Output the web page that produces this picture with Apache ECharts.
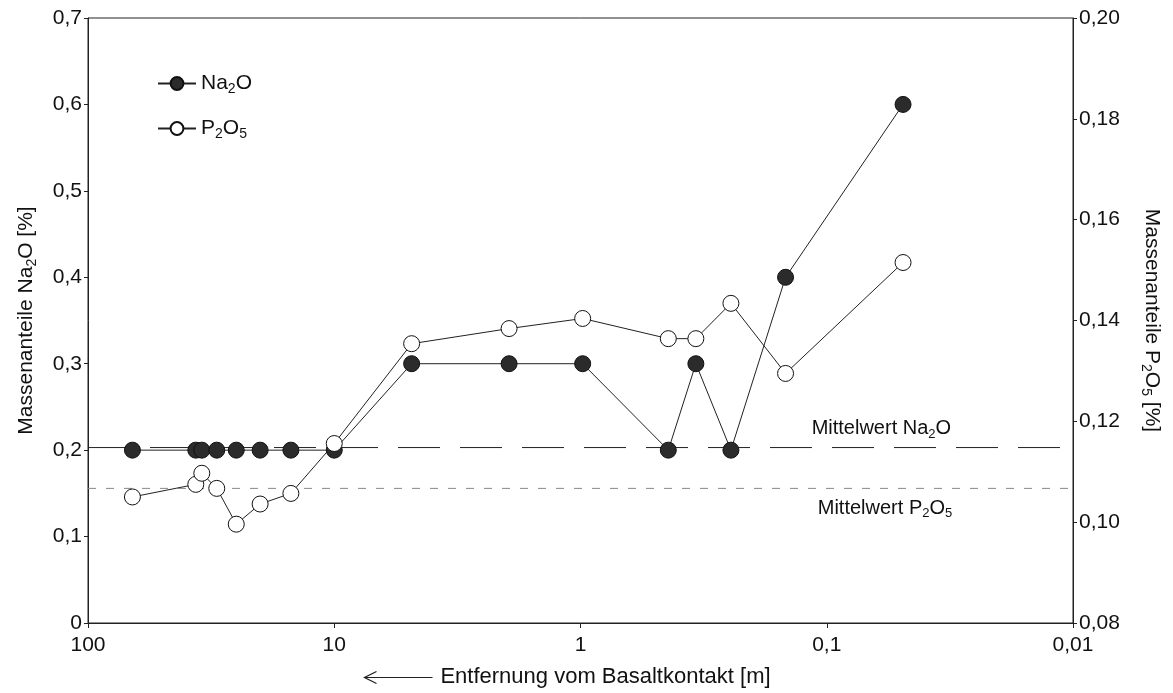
<!DOCTYPE html>
<html>
<head>
<meta charset="utf-8">
<script src="https://cdn.jsdelivr.net/npm/echarts@6/dist/echarts.min.js"></script>
<style>
html,body{margin:0;padding:0;background:#fff;}
#chart{width:1173px;height:693px;}
</style>
</head>
<body>
<div id="chart"></div>
<script>
// distance from basalt contact [m]
const distance = [66, 36.5, 34.5, 30, 25, 20, 15, 10, 4.85, 1.95, 0.98, 0.44, 0.34, 0.245, 0.147, 0.049];
// Na2O mass fraction [%]
const na2o = [0.2, 0.2, 0.2, 0.2, 0.2, 0.2, 0.2, 0.2, 0.3, 0.3, 0.3, 0.2, 0.3, 0.2, 0.4, 0.6];
// P2O5 mass fraction [%]
const p2o5 = [0.105, 0.1075, 0.1097, 0.1067, 0.0996, 0.1036, 0.1057, 0.1156, 0.1354, 0.1384, 0.1404, 0.1364, 0.1364, 0.1434, 0.1295, 0.1515];
// mean values
const meanNa2o = 0.203;
const meanP2o5 = 0.1067;
// axis extent (distance) used for the mean lines
const xExtent = [100, 0.01];
// tick labels
const xTicks = {100: '100', 10: '10', 1: '1', 0.1: '0,1', 0.01: '0,01'};

const FONT = '"Liberation Sans", Arial, Helvetica, sans-serif';
const rich = {
  n: {fontSize: 21, lineHeight: 25, fontFamily: FONT, color: '#111'},
  s: {fontSize: 14, lineHeight: 14, verticalAlign: 'bottom', fontFamily: FONT, color: '#111'}
};
const rich20 = {
  n: {fontSize: 20, lineHeight: 24, fontFamily: FONT, color: '#111'},
  s: {fontSize: 13, lineHeight: 13, verticalAlign: 'bottom', fontFamily: FONT, color: '#111'}
};

const chart = echarts.init(document.getElementById('chart'), null, {renderer: 'canvas'});
const naData = distance.map((d, i) => [d, na2o[i]]);
const pData = distance.map((d, i) => [d, p2o5[i]]);

const axisLabelStyle = {fontSize: 21, fontFamily: FONT, color: '#111'};

chart.setOption({
  animation: false,
  backgroundColor: '#fff',
  grid: {left: 88, right: 100, top: 18, bottom: 70, show: true, borderColor: '#222', borderWidth: 1, backgroundColor: 'transparent'},
  legend: {
    left: 152, top: 68, orient: 'vertical', itemGap: 22, itemWidth: 38, itemHeight: 16,
    textStyle: {rich: rich},
    formatter: function (name) {
      return name === 'Na2O' ? '{n|Na}{s|2}{n|O}' : '{n|P}{s|2}{n|O}{s|5}';
    },
    data: ['Na2O', 'P2O5']
  },
  xAxis: {
    type: 'log', logBase: 10, min: 0.01, max: 100, inverse: true,
    name: 'Entfernung vom Basaltkontakt [m]', nameLocation: 'middle', nameGap: 43,
    nameTextStyle: {fontSize: 22, fontFamily: FONT, color: '#111', padding: [0, 0, 0, 50]},
    axisLine: {lineStyle: {color: '#222', width: 1}},
    axisTick: {show: true, inside: false, length: 5, lineStyle: {color: '#222'}},
    minorTick: {show: false},
    splitLine: {show: false},
    axisLabel: Object.assign({margin: 12, formatter: v => xTicks[v] !== undefined ? xTicks[v] : String(v).replace('.', ',')}, axisLabelStyle)
  },
  yAxis: [{
    type: 'value', min: 0, max: 0.7, interval: 0.1, position: 'left',
    name: '{n|Massenanteile Na}{s|2}{n|O [%]}', nameLocation: 'middle', nameGap: 49, nameRotate: 90,
    nameTextStyle: {rich: rich},
    axisLine: {show: true, lineStyle: {color: '#222', width: 1}},
    axisTick: {show: true, inside: false, length: 4, lineStyle: {color: '#222'}},
    splitLine: {show: false},
    axisLabel: Object.assign({margin: 6, formatter: v => v === 0 ? '0' : v.toFixed(1).replace('.', ',')}, axisLabelStyle)
  }, {
    type: 'value', min: 0.08, max: 0.2, interval: 0.02, position: 'right',
    name: '{n|Massenanteile P}{s|2}{n|O}{s|5}{n| [%]}', nameLocation: 'middle', nameGap: 66, nameRotate: -90,
    nameTextStyle: {rich: rich},
    axisLine: {show: true, lineStyle: {color: '#222', width: 1}},
    axisTick: {show: true, inside: false, length: 4, lineStyle: {color: '#222'}},
    splitLine: {show: false},
    axisLabel: Object.assign({margin: 6, formatter: v => v.toFixed(2).replace('.', ',')}, axisLabelStyle)
  }],
  series: [{
    name: 'meanNa2O', type: 'line', yAxisIndex: 0, silent: true,
    data: xExtent.map(x => [x, meanNa2o]),
    symbol: 'none', lineStyle: {color: '#222', width: 1, type: [42, 20]}, z: 1,
    markPoint: {
      silent: true, symbol: 'circle', symbolSize: 1, itemStyle: {color: 'rgba(0,0,0,0)'},
      label: {show: true, position: 'inside', formatter: '{n|Mittelwert Na}{s|2}{n|O}', rich: rich20},
      data: [{coord: [0.06, 0.225]}]
    }
  }, {
    name: 'meanP2O5', type: 'line', yAxisIndex: 1, silent: true,
    data: xExtent.map(x => [x, meanP2o5]),
    symbol: 'none', lineStyle: {color: '#888', width: 1, type: [8, 10]}, z: 1,
    markPoint: {
      silent: true, symbol: 'circle', symbolSize: 1, itemStyle: {color: 'rgba(0,0,0,0)'},
      label: {show: true, position: 'inside', formatter: '{n|Mittelwert P}{s|2}{n|O}{s|5}', rich: rich20},
      data: [{coord: [0.058, 0.1028]}]
    }
  }, {
    name: 'Na2O', type: 'line', yAxisIndex: 0, data: naData,
    symbol: 'circle', symbolSize: 16,
    itemStyle: {color: '#2b2b2b', borderColor: '#111', borderWidth: 1},
    lineStyle: {color: '#222', width: 1},
    z: 3
  }, {
    name: 'P2O5', type: 'line', yAxisIndex: 1, data: pData,
    symbol: 'circle', symbolSize: 16,
    itemStyle: {color: '#fff', borderColor: '#111', borderWidth: 1},
    lineStyle: {color: '#222', width: 1},
    z: 4
  }],
  graphic: [{
    type: 'group', left: 362, top: 669,
    children: [
      {type: 'line', shape: {x1: 2, y1: 8, x2: 70, y2: 8}, style: {stroke: '#222', lineWidth: 1}},
      {type: 'polyline', shape: {points: [[14, 2], [2, 8], [14, 14]]}, style: {stroke: '#222', lineWidth: 1.3, fill: null}}
    ]
  }]
});
</script>
</body>
</html>
